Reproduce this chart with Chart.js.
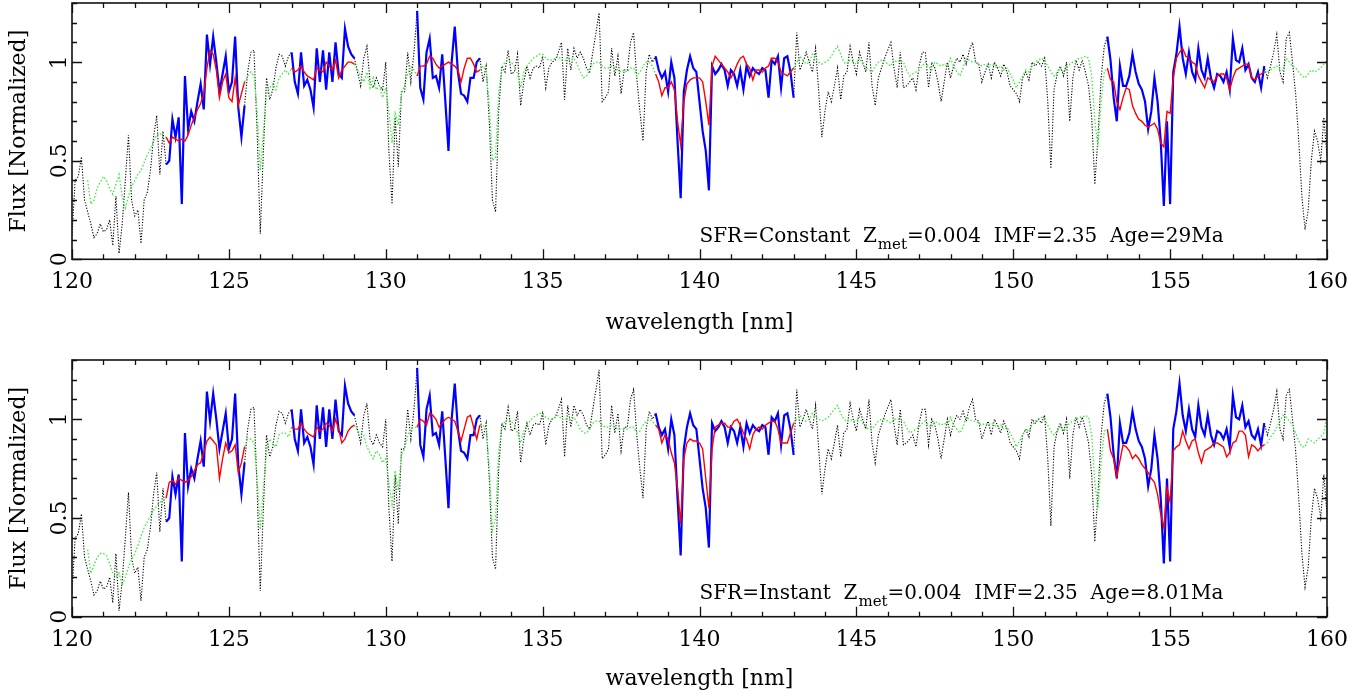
<!DOCTYPE html>
<html><head><meta charset="utf-8">
<script src="https://cdn.jsdelivr.net/npm/chart.js@4.4.1/dist/chart.umd.min.js"></script>
<style>
html,body{margin:0;padding:0;background:#fff;}
#wrap{width:1361px;height:696px;position:relative;overflow:hidden;}
canvas{display:block;}
</style></head><body>
<div id="wrap"><canvas id="c1" width="1361" height="348"></canvas><canvas id="c2" width="1361" height="348"></canvas></div>
<script>
// wavelength grid (nm): 120.0 .. 160.0 in 0.1 nm steps
const waveStart = 120.0, waveStep = 0.1;

// observed spectrum (shared by both panels)
const obsFlux = [
0.12,0.40,0.42,0.52,0.30,0.24,0.18,0.11,0.13,0.18,
0.14,0.15,0.20,0.07,0.32,0.03,0.18,0.40,0.63,0.30,
0.22,0.25,0.08,0.30,0.34,0.45,0.62,0.73,0.43,0.65,
0.48,0.50,0.71,0.62,0.72,0.28,0.93,0.66,0.75,0.70,
0.80,0.89,0.76,1.14,0.99,1.13,1.00,0.85,0.94,1.03,
0.85,0.90,1.13,0.77,0.62,0.78,0.95,1.05,1.06,0.65,
0.13,0.55,0.92,0.81,0.86,0.97,1.04,1.03,0.98,1.03,
1.05,0.90,0.84,1.05,0.88,0.91,0.86,0.77,1.07,0.90,
1.06,0.86,1.05,0.90,1.10,0.94,0.92,1.17,1.08,1.04,
1.02,0.95,0.88,1.02,1.08,0.90,0.87,0.92,0.88,0.86,
1.00,0.55,0.28,0.72,0.47,0.85,0.85,1.05,0.90,1.05,
1.26,0.87,0.81,1.05,1.12,0.92,0.93,0.87,1.04,0.80,
0.55,1.00,1.18,0.95,0.84,0.83,0.80,0.92,0.92,1.00,
1.02,0.90,0.98,0.70,0.30,0.24,0.75,0.98,0.95,1.06,
0.94,0.95,1.04,0.78,0.90,0.98,0.92,0.97,0.98,0.97,
1.03,0.87,0.97,1.00,1.01,1.05,1.10,0.81,1.07,0.96,
1.07,1.02,1.05,1.02,0.97,0.95,1.05,1.15,1.25,0.80,
0.82,0.85,1.07,0.93,1.03,0.84,0.96,0.96,1.10,1.15,
0.92,0.75,0.60,0.95,1.04,1.00,1.03,0.96,0.92,0.95,
0.85,1.00,0.92,0.60,0.31,0.85,0.96,1.03,0.97,0.95,
0.80,0.65,0.55,0.35,0.98,0.94,0.96,0.99,0.96,0.88,
0.96,0.94,0.88,0.96,0.86,0.98,0.93,0.97,0.95,0.94,
0.97,0.96,0.82,1.01,0.99,1.03,0.87,1.02,1.03,0.95,
0.82,1.15,0.96,1.00,1.05,1.00,0.95,1.07,0.85,0.62,
0.75,0.85,0.80,0.88,0.97,0.81,0.93,0.95,1.08,1.00,
0.94,1.05,1.00,0.95,1.10,0.88,0.78,0.92,0.97,1.02,
1.06,1.10,0.97,0.87,1.05,0.87,0.88,0.90,0.92,0.86,
0.98,1.05,1.05,0.87,1.00,0.97,0.90,0.80,0.90,1.00,
0.92,0.98,1.02,1.00,1.04,0.99,1.06,1.10,1.00,0.99,
0.90,0.95,0.99,0.92,1.00,0.97,0.93,0.99,0.95,0.88,
0.86,0.84,0.80,0.92,0.95,0.91,1.00,0.98,1.00,0.98,
1.02,0.80,0.46,0.86,0.94,0.98,0.93,1.00,0.70,0.92,
1.01,0.96,1.01,0.95,0.88,0.72,0.38,0.62,0.92,1.08,
1.13,1.01,0.82,0.70,0.98,0.88,0.88,0.93,1.04,0.95,
0.89,0.86,0.80,0.66,0.75,0.92,0.80,0.60,0.27,0.70,
0.28,0.95,1.04,1.18,1.02,0.94,1.05,0.95,0.91,1.07,
0.96,0.92,1.02,0.92,0.87,0.94,0.93,0.90,0.95,0.86,
1.12,1.01,1.00,1.07,0.96,0.99,0.92,0.90,0.95,0.87,
0.98,0.92,0.98,1.05,1.14,0.95,0.90,1.12,1.15,1.00,
0.84,0.60,0.32,0.15,0.25,0.50,0.65,0.60,0.50,0.72,
0.52];

// model, SFR = Constant (top panel)
const modelConstant = [
null,null,null,null,null,0.40,0.28,0.30,0.36,0.39,
0.42,0.40,0.36,0.33,0.38,0.43,0.32,0.26,0.32,0.37,
0.40,0.43,0.45,0.49,0.53,0.56,0.60,0.63,0.64,0.62,
0.62,0.59,0.62,0.61,0.60,0.61,0.60,0.63,0.68,0.72,
0.76,0.79,0.84,0.97,1.06,1.04,0.96,0.82,0.90,0.94,
0.82,0.80,0.92,0.78,0.84,0.90,0.93,0.95,0.93,0.75,
0.45,0.65,0.84,0.87,0.89,0.86,0.92,0.94,0.96,0.94,
0.97,0.95,0.96,0.98,0.95,0.93,0.92,0.91,0.97,0.96,
0.95,1.00,0.98,0.96,1.01,0.92,0.96,0.98,1.00,1.00,
0.99,0.96,0.93,0.90,0.95,0.87,0.92,0.86,0.88,0.82,
0.87,0.75,0.59,0.74,0.68,0.84,0.88,0.94,0.98,0.96,
0.93,0.98,0.98,0.99,1.03,1.02,0.99,0.97,0.98,0.99,
1.00,0.99,0.98,0.96,0.90,0.97,1.02,1.02,0.99,0.95,
0.96,0.98,0.96,0.78,0.50,0.52,0.85,0.97,1.00,1.01,
1.00,0.98,0.94,0.87,0.95,0.98,1.00,1.02,1.03,1.04,
1.04,1.02,1.01,1.01,1.02,1.03,1.01,1.01,1.01,1.01,
1.02,0.99,0.95,0.92,0.93,0.96,0.99,1.00,1.00,0.98,
0.97,0.97,0.98,0.97,0.96,0.95,0.96,0.95,0.97,0.97,
0.93,0.95,0.98,1.00,1.00,0.98,0.94,0.90,0.83,0.87,
0.87,0.90,0.86,0.70,0.58,0.80,0.89,0.91,0.92,0.92,
0.92,0.90,0.80,0.68,0.98,1.03,1.01,0.99,0.97,0.95,
0.92,0.95,0.99,1.02,1.03,0.99,0.97,0.91,0.96,0.96,
0.95,0.97,0.98,1.02,1.02,1.00,0.95,0.94,0.93,0.95,
0.97,1.00,1.03,1.01,0.99,1.00,1.04,1.02,1.00,0.99,
1.00,1.01,1.03,1.06,1.08,1.04,1.00,0.99,1.01,1.00,
0.99,1.02,0.99,0.97,0.96,0.95,0.98,1.00,1.01,1.01,
0.99,0.98,1.01,1.00,1.01,1.00,0.96,0.93,0.94,0.95,
0.96,0.98,1.00,0.98,0.96,1.00,0.99,0.98,0.99,0.98,
1.02,0.98,0.95,0.93,0.97,1.02,1.01,1.00,1.00,0.99,
0.98,0.99,0.98,0.99,0.98,0.97,0.98,0.96,0.97,0.94,
0.91,0.87,0.90,0.93,0.96,0.95,0.98,1.00,1.01,1.02,
1.01,0.98,0.95,0.93,0.95,0.97,0.95,0.97,0.99,1.00,
1.01,1.02,1.02,1.03,1.02,0.93,0.70,0.57,0.80,0.95,
0.97,0.91,0.90,0.80,0.76,0.82,0.87,0.86,0.78,0.74,
0.71,0.70,0.68,0.67,0.68,0.69,0.66,0.59,0.57,0.75,
0.74,0.92,1.02,1.05,1.07,1.03,1.02,1.00,0.99,0.93,
0.90,0.87,0.92,0.91,0.90,0.93,0.94,0.94,0.92,0.86,
0.92,0.96,0.97,0.98,0.99,0.99,0.92,0.91,0.93,0.94,
0.95,0.95,0.96,0.97,0.98,0.96,0.96,1.02,1.00,0.98,
0.97,0.95,0.93,0.92,0.94,0.96,0.95,0.96,0.97,0.99,
1.01];

// model, SFR = Instant (bottom panel)
const modelInstant = [
null,null,null,null,null,0.34,0.22,0.26,0.30,0.32,
0.32,0.31,0.27,0.22,0.20,0.22,0.16,0.20,0.25,0.29,
0.32,0.36,0.41,0.45,0.48,0.51,0.54,0.56,0.58,0.59,
0.60,0.68,0.69,0.67,0.70,0.69,0.68,0.69,0.71,0.74,
0.77,0.78,0.83,0.89,0.91,0.89,0.87,0.70,0.80,0.88,
0.83,0.84,0.87,0.73,0.78,0.86,0.90,0.90,0.88,0.70,
0.44,0.65,0.84,0.90,0.88,0.86,0.92,0.93,0.93,0.91,
0.96,0.95,0.95,0.98,0.95,0.93,0.92,0.91,0.96,0.94,
0.95,0.98,0.97,0.94,1.00,0.95,0.88,0.90,0.94,0.96,
0.97,0.94,0.93,0.92,0.86,0.83,0.80,0.84,0.82,0.78,
0.80,0.68,0.57,0.74,0.64,0.82,0.85,0.92,0.95,0.96,
0.96,1.00,0.99,0.97,1.03,1.02,1.00,0.96,0.98,1.00,
1.01,1.00,0.99,0.94,0.89,0.95,1.01,1.02,0.96,0.90,
0.97,0.97,0.95,0.76,0.44,0.50,0.84,0.96,0.99,1.00,
0.99,0.97,0.93,0.88,0.94,0.97,0.99,1.01,1.02,1.03,
1.03,1.01,1.00,1.00,1.01,1.02,1.00,1.00,1.00,1.00,
1.01,0.98,0.95,0.93,0.93,0.95,0.98,0.99,0.99,0.97,
0.96,0.96,0.97,0.96,0.95,0.95,0.95,0.95,0.96,0.96,
0.93,0.94,0.97,0.99,1.00,0.99,0.97,0.95,0.88,0.92,
0.90,0.83,0.78,0.65,0.47,0.80,0.88,0.90,0.89,0.89,
0.88,0.85,0.70,0.55,0.85,0.96,0.97,0.98,0.98,0.96,
0.96,0.99,1.00,0.97,0.93,0.90,0.85,0.92,0.95,0.96,
0.95,0.97,0.98,0.99,0.99,0.95,0.88,0.88,0.88,0.93,
0.98,1.00,1.02,1.00,0.99,1.00,1.03,1.01,1.00,0.99,
1.00,1.01,1.03,1.05,1.07,1.03,1.00,0.99,1.00,0.99,
0.99,1.01,0.98,0.96,0.95,0.95,0.97,0.99,1.00,1.00,
0.99,0.98,1.00,1.00,1.00,0.99,0.96,0.93,0.94,0.95,
0.96,0.98,0.99,0.97,0.96,0.99,0.98,0.97,0.98,0.97,
1.01,0.97,0.95,0.93,0.96,1.01,1.00,0.99,0.99,0.98,
0.97,0.98,0.97,0.98,0.97,0.96,0.97,0.95,0.96,0.93,
0.90,0.86,0.89,0.92,0.95,0.94,0.97,0.99,1.00,1.01,
1.00,0.97,0.94,0.92,0.94,0.96,0.94,0.96,0.98,0.99,
1.00,1.01,1.01,1.02,1.01,0.92,0.68,0.55,0.78,0.94,
0.95,0.84,0.80,0.71,0.79,0.87,0.86,0.84,0.80,0.82,
0.80,0.77,0.75,0.73,0.70,0.68,0.62,0.52,0.45,0.65,
0.58,0.84,0.86,0.87,0.94,0.89,0.85,0.89,0.90,0.83,
0.78,0.84,0.85,0.86,0.88,0.88,0.87,0.86,0.81,0.83,
0.88,0.89,0.94,0.94,0.92,0.81,0.87,0.86,0.84,0.86,
0.87,0.88,0.91,0.93,0.96,0.99,1.02,1.01,0.99,0.97,
0.93,0.89,0.86,0.86,0.90,0.89,0.88,0.90,0.91,0.93,
1.02];

// fitting windows (nm) where observed/model are drawn solid
const fitWindows = [[123.0,125.5],[127.0,129.0],[131.0,133.0],[138.6,143.0],[153.0,158.0]];
const xTickLabels = [120,125,130,135,140,145,150,155,160];
const yTickLabels = [0,0.5,1];
const panelSFR = ['Constant','Instant'];
const panelZ = ['0.004','0.004'];
const panelIMF = ['2.35','2.35'];
const panelAge = ['29Ma','8.01Ma'];

const FONT = '"DejaVu Serif", serif';
const waves = obsFlux.map((_, i) => Math.round((waveStart + i * waveStep) * 10) / 10);
const inWin = w => fitWindows.some(([a, b]) => w >= a - 1e-6 && w <= b + 1e-6);
const outWin = w => !fitWindows.some(([a, b]) => w > a + 1e-6 && w < b - 1e-6);
const pts = (arr, keep) => arr.map((v, i) => ({x: waves[i], y: (v != null && keep(waves[i])) ? v : null}));

const isMajorX = v => xTickLabels.some(t => Math.abs(t - v) < 1e-6);
const isMajorY = v => yTickLabels.some(t => Math.abs(t - v) < 1e-6);

function frameAndText(idx) {
  return {
    id: 'frame' + idx,
    afterDatasetsDraw(chart) {
      const {ctx, chartArea: a, scales: {x, y}} = chart;
      ctx.save();
      ctx.strokeStyle = '#111';
      ctx.lineWidth = 1.3;
      ctx.beginPath();
      x.ticks.forEach(t => {
        const px = Math.round(x.getPixelForValue(t.value)) + 0.5;
        const L = isMajorX(t.value) ? 10 : 5;
        ctx.moveTo(px, a.bottom); ctx.lineTo(px, a.bottom - L);
        ctx.moveTo(px, a.top); ctx.lineTo(px, a.top + L);
      });
      y.ticks.forEach(t => {
        const py = Math.round(y.getPixelForValue(t.value)) + 0.5;
        const L = isMajorY(t.value) ? 10 : 5;
        ctx.moveTo(a.left, py); ctx.lineTo(a.left + L, py);
        ctx.moveTo(a.right, py); ctx.lineTo(a.right - L, py);
      });
      ctx.stroke();
      ctx.lineWidth = 1.6;
      ctx.strokeRect(a.left, a.top, a.right - a.left, a.bottom - a.top);
      // annotation
      let tx = x.getPixelForValue(140);
      const ty = y.getPixelForValue(0.09);
      ctx.fillStyle = '#000';
      ctx.textBaseline = 'alphabetic';
      ctx.textAlign = 'left';
      const big = '20px ' + FONT, small = '15px ' + FONT;
      ctx.font = big;
      const s1 = 'SFR=' + panelSFR[idx] + '  Z';
      ctx.fillText(s1, tx, ty); tx += ctx.measureText(s1).width + 1;
      ctx.font = small;
      ctx.fillText('met', tx, ty + 7); tx += ctx.measureText('met').width;
      ctx.font = big;
      ctx.fillText('=' + panelZ[idx] + '  IMF=' + panelIMF[idx] + '  Age=' + panelAge[idx], tx, ty);
      ctx.restore();
    }
  };
}

function makeChart(canvasId, model, idx, padTop, axisH, titlePadB) {
  return new Chart(document.getElementById(canvasId), {
    type: 'line',
    data: {
      datasets: [
        {data: pts(model, inWin), borderColor: '#ff0000', borderWidth: 1.4},
        {data: pts(obsFlux, inWin), borderColor: '#0000ff', borderWidth: 2.2},
        {data: pts(model, outWin), borderColor: '#33ee33', borderWidth: 1.3, borderDash: [1.5, 2]},
        {data: pts(obsFlux, outWin), borderColor: '#000000', borderWidth: 1.1, borderDash: [1.2, 1.6]}
      ].map(d => Object.assign(d, {pointRadius: 0, tension: 0, spanGaps: false, fill: false}))
    },
    options: {
      responsive: false,
      devicePixelRatio: 1,
      animation: false,
      events: [],
      layout: {padding: {left: 0, right: 34, top: padTop, bottom: 0}},
      plugins: {legend: {display: false}, tooltip: {enabled: false}},
      scales: {
        x: {
          type: 'linear', min: 120, max: 160,
          grid: {display: false}, border: {display: false},
          ticks: {
            stepSize: 1, autoSkip: false, maxRotation: 0, padding: 2,
            color: '#000', font: {family: FONT, size: 22},
            callback: v => isMajorX(v) ? String(Math.round(v)) : ''
          },
          title: {display: true, text: 'wavelength [nm]', color: '#000',
                  font: {family: FONT, size: 22}, padding: {top: 0, bottom: titlePadB}},
          afterFit: s => { s.height = axisH; s.paddingLeft = 0; s.paddingRight = 0; }
        },
        y: {
          type: 'linear', min: 0, max: 1.3,
          grid: {display: false}, border: {display: false},
          ticks: {
            stepSize: 0.1, autoSkip: false, minRotation: 90, maxRotation: 90,
            crossAlign: 'center', padding: -14,
            color: '#000', font: {family: FONT, size: 22},
            callback: v => isMajorY(v) ? String(Math.round(v * 10) / 10) : ''
          },
          title: {display: true, text: 'Flux [Normalized]', color: '#000',
                  font: {family: FONT, size: 22}, padding: {top: 6, bottom: 0}},
          afterFit: s => { s.width = 72; s.paddingTop = 0; s.paddingBottom = 0; }
        }
      }
    },
    plugins: [frameAndText(idx)]
  });
}

makeChart('c1', modelConstant, 0, 3, 88.7, 12);
makeChart('c2', modelInstant, 1, 12, 79.3, 4);
</script>
</body></html>
